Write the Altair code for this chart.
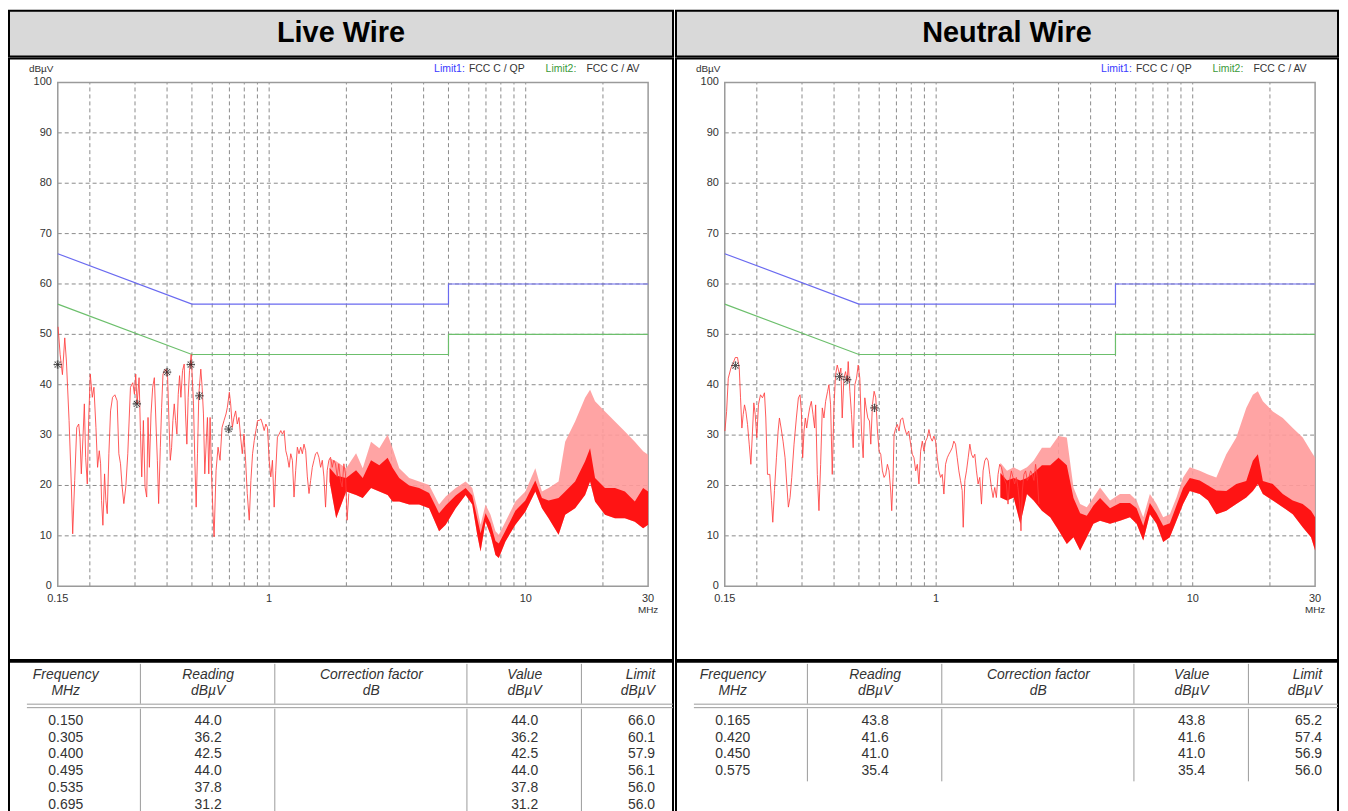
import math
import altair as alt
import pandas as pd

FONT = "Liberation Sans"
TXT = "#333333"

# ---------------- Live wire : measured trace ----------------
LIVE_LINE_F = [0.1504, 0.1532, 0.1564, 0.1597, 0.1621, 0.1660, 0.1695, 0.1715, 0.1746, 0.1778,
               0.1810, 0.1831, 0.1853, 0.1881, 0.1904, 0.1926, 0.1955, 0.1979, 0.2008, 0.2045,
               0.2075, 0.2113, 0.2144, 0.2177, 0.2203, 0.2222, 0.2249, 0.2283, 0.2310, 0.2338,
               0.2373, 0.2409, 0.2452, 0.2504, 0.2556, 0.2595, 0.2634, 0.2673, 0.2714, 0.2762,
               0.2812, 0.2880, 0.2941, 0.2985, 0.3020, 0.3057, 0.3112, 0.3149, 0.3187, 0.3234,
               0.3283, 0.3332, 0.3372, 0.3413, 0.3464, 0.3516, 0.3569, 0.3622, 0.3666, 0.3709,
               0.3765, 0.3810, 0.3856, 0.3914, 0.3972, 0.4020, 0.4068, 0.4117, 0.4166, 0.4216,
               0.4267, 0.4318, 0.4370, 0.4422, 0.4475, 0.4529, 0.4596, 0.4665, 0.4721, 0.4778,
               0.4835, 0.4893, 0.4967,
               0.5071, 0.5132, 0.5194, 0.5256, 0.5319, 0.5415, 0.5480, 0.5545, 0.5612, 0.5696,
               0.5747, 0.5816, 0.5886, 0.5956, 0.6028, 0.6100, 0.6210, 0.6322, 0.6435, 0.6552,
               0.6670, 0.6790, 0.6872, 0.6995, 0.7079, 0.7185, 0.7293, 0.7402, 0.7514, 0.7626,
               0.7741, 0.7857, 0.7975, 0.8094, 0.8216, 0.8364, 0.8489, 0.8617, 0.8746, 0.8877,
               0.9011, 0.9146, 0.9283, 0.9423, 0.9564, 0.9708, 0.9852, 1.000, 1.015, 1.030,
               1.046, 1.061, 1.077, 1.094, 1.110, 1.127, 1.144, 1.161, 1.178, 1.196,
               1.214, 1.232, 1.250, 1.269, 1.288, 1.307, 1.327, 1.347, 1.367, 1.388,
               1.409, 1.430, 1.451, 1.473, 1.495, 1.517, 1.540, 1.563, 1.587, 1.611,
               1.635, 1.659, 1.684, 1.709, 1.735, 1.761, 1.787, 1.814, 1.842, 1.869,
               1.897, 1.926, 1.955, 1.984, 2.013, 2.044]
LIVE_LINE_V = [51.5, 46.0, 42.0, 49.3, 44.7, 32.9, 19.7, 10.4, 21.0, 31.5,
               32.2, 29.6, 22.3, 29.6, 36.2, 25.6, 20.3, 32.9, 42.1, 37.5,
               39.5, 31.5, 23.6, 26.9, 24.3, 17.0, 12.1, 22.3, 17.0, 14.4,
               26.3, 34.8, 37.5, 38.0, 36.8, 26.3, 24.3, 19.7, 16.4, 19.7,
               26.3, 39.5, 40.4, 38.1, 42.1, 36.2, 41.4, 30.9, 21.7, 32.9,
               19.7, 17.7, 33.5, 23.6, 34.2, 39.5, 41.4, 32.2, 25.0, 16.4,
               27.5, 35.5, 42.1, 42.8, 43.1, 41.4, 32.9, 25.0, 27.5, 32.9,
               36.2, 32.9, 30.2, 38.1, 41.8, 37.5, 42.8, 44.1, 34.2, 28.2,
               37.5, 42.8, 46.0,
               36.2, 25.0, 15.7, 26.3, 38.1, 43.1, 39.5, 34.2, 22.3, 29.6,
               33.5, 22.3, 33.5, 23.0, 15.7, 9.8, 23.0, 27.6, 25.0, 31.5,
               32.9, 34.2, 35.5, 38.5, 36.2, 31.5, 33.5, 34.8, 32.2, 33.5,
               29.6, 26.3, 30.2, 25.0, 18.4, 13.1, 21.0, 26.3, 28.9, 30.9,
               32.9, 32.9, 33.2, 32.2, 30.9, 32.2, 31.5, 25.0, 21.7, 25.0,
               15.7, 23.0, 29.6, 30.2, 30.9, 30.2, 30.9, 26.9, 25.6, 23.6,
               26.3, 25.0, 17.7, 23.0, 27.6, 26.3, 27.6, 26.3, 28.2, 26.9,
               21.7, 18.4, 21.0, 23.6, 25.0, 26.3, 26.6, 25.6, 23.6, 25.0,
               21.7, 15.7, 23.0, 25.0, 25.6, 23.6, 25.0, 24.3, 21.7, 24.3,
               21.0, 19.7, 24.3, 22.3, 13.1, 18.4]
LIVE_BAND_F = [1.720, 1.825, 1.996, 2.182, 2.316, 2.495, 2.688, 2.896, 3.028, 3.214,
               3.515, 3.843, 4.202, 4.595, 4.877, 5.333, 5.832, 6.190, 6.472, 6.668,
               6.973, 7.291, 7.625, 7.854, 8.337, 9.115, 9.969, 10.90, 11.57, 12.28,
               13.43, 14.25, 15.58, 17.04, 17.82, 18.63, 20.37, 22.28, 24.36, 26.63,
               28.69, 30.0]
LIVE_BAND_HI = [25.4, 24.8, 23.4, 26.4, 23.4, 28.7, 27.4, 30.1, 27.4, 23.4,
                21.5, 20.8, 20.1, 16.2, 17.8, 19.5, 20.8, 19.5, 15.5, 12.2,
                16.2, 14.2, 10.9, 10.2, 12.8, 16.8, 18.8, 23.4, 18.8, 19.5,
                20.8, 28.7, 32.7, 37.4, 39.0, 36.7, 34.7, 32.7, 30.7, 28.7,
                26.8, 26.1]
LIVE_BAND_CORE = [23.5, 22.0, 21.5, 23.0, 21.5, 25.0, 24.0, 25.5, 23.5, 21.5,
                  20.0, 19.5, 18.5, 14.5, 16.0, 18.0, 19.5, 18.0, 13.5, 10.5,
                  14.5, 12.5, 9.0, 8.5, 11.0, 15.0, 17.0, 21.0, 17.5, 17.0,
                  17.5, 18.8, 20.8, 24.8, 27.4, 21.5, 19.5, 19.5, 18.8, 16.8,
                  19.5, 18.8]
LIVE_BAND_LO = [20.8, 13.5, 18.8, 18.1, 17.5, 19.5, 18.8, 18.1, 16.8, 16.8,
                16.2, 16.2, 15.5, 10.9, 12.2, 15.5, 18.1, 16.2, 10.2, 6.9,
                12.8, 10.2, 6.2, 5.6, 8.9, 12.2, 14.8, 18.8, 15.5, 13.5,
                10.2, 14.2, 15.5, 18.1, 20.8, 16.8, 14.2, 13.5, 13.5, 12.8,
                11.5, 12.2]
LIVE_PEAK_F = [0.150, 0.305, 0.400, 0.495, 0.535, 0.695]
LIVE_PEAK_READ = [44.0, 36.2, 42.5, 44.0, 37.8, 31.2]
LIVE_PEAK_LIMIT = [66.0, 60.1, 57.9, 56.1, 56.0, 56.0]

# ---------------- Neutral wire : measured trace ----------------
NEU_LINE_F = [0.1502, 0.1525, 0.1548, 0.1585, 0.1618, 0.1648, 0.1682, 0.1708, 0.1728, 0.1749,
              0.1770, 0.1791, 0.1813, 0.1840, 0.1868, 0.1896, 0.1924, 0.1947, 0.1971, 0.2000,
              0.2030, 0.2067, 0.2104, 0.2142, 0.2168, 0.2201, 0.2247, 0.2281, 0.2308, 0.2343,
              0.2385, 0.2421, 0.2450, 0.2487, 0.2531, 0.2577, 0.2616, 0.2655, 0.2695, 0.2736,
              0.2793, 0.2852, 0.2904, 0.2947, 0.2983, 0.3018, 0.3055, 0.3091, 0.3128, 0.3166,
              0.3214, 0.3262, 0.3311, 0.3360, 0.3391, 0.3442, 0.3493, 0.3546, 0.3599, 0.3653,
              0.3708, 0.3775, 0.3820, 0.3878, 0.3936, 0.3995, 0.4055, 0.4116, 0.4203, 0.4253,
              0.4304, 0.4369, 0.4435, 0.4501, 0.4542, 0.4610, 0.4679, 0.4749, 0.4821, 0.4893,
              0.4967, 0.5041, 0.5117, 0.5194, 0.5272, 0.5335, 0.5415, 0.5497, 0.5562,
              0.5646, 0.5731, 0.5817, 0.5905, 0.5993, 0.6083, 0.6175, 0.6267, 0.6361, 0.6457,
              0.6554, 0.6652, 0.6712, 0.6793, 0.6854, 0.6957, 0.7061, 0.7167, 0.7275, 0.7406,
              0.7540, 0.7676, 0.7815, 0.7956, 0.8075, 0.8196, 0.8320, 0.8444, 0.8571, 0.8700,
              0.8831, 0.8964, 0.9099, 0.9235, 0.9374, 0.9515, 0.9658, 0.9803, 0.9950, 1.010,
              1.025, 1.041, 1.056, 1.072, 1.088, 1.105, 1.121, 1.138, 1.155, 1.172,
              1.190, 1.208, 1.226, 1.244, 1.263, 1.275, 1.294, 1.313, 1.333, 1.353,
              1.373, 1.394, 1.415, 1.436, 1.457, 1.479, 1.502, 1.524, 1.547, 1.570,
              1.594, 1.618, 1.642, 1.667, 1.692, 1.717, 1.743, 1.769, 1.796, 1.823,
              1.850, 1.878, 1.906, 1.935, 1.964, 1.993, 2.023, 2.054, 2.084, 2.116,
              2.141, 2.167, 2.199, 2.232, 2.266, 2.300, 2.335, 2.370, 2.405, 2.441,
              2.478, 2.515]
NEU_LINE_V = [30.8, 34.7, 41.3, 43.3, 44.3, 45.4, 45.4, 43.3, 37.4, 31.4,
              34.1, 36.0, 34.7, 32.1, 28.2, 24.2, 30.8, 36.4, 34.1, 29.5,
              36.1, 38.0, 37.4, 38.4, 33.4, 22.2, 22.2, 17.0, 12.7, 19.0,
              25.5, 30.8, 33.4, 31.4, 28.8, 25.5, 20.3, 15.7, 17.6, 21.6,
              28.2, 33.4, 37.4, 38.0, 34.7, 25.5, 30.8, 33.4, 31.4, 33.4,
              35.4, 36.7, 34.1, 31.4, 36.0, 22.2, 15.0, 24.2, 35.4, 33.4,
              36.7, 38.7, 40.0, 36.0, 22.2, 35.4, 42.0, 43.9, 42.0, 43.3,
              33.4, 41.3, 42.6, 40.7, 44.6, 38.7, 34.1, 27.5, 40.0, 41.3,
              43.9, 41.3, 30.8, 25.5, 37.4, 35.4, 33.4, 32.8, 28.2,
              36.1, 38.7, 37.4, 30.8, 26.8, 26.2, 22.9, 21.6, 22.2, 24.2,
              22.9, 18.9, 15.0, 21.6, 30.1, 31.4, 32.1, 30.8, 33.1, 33.4,
              31.4, 30.1, 30.8, 28.2, 26.2, 25.5, 22.9, 24.2, 20.3, 26.8,
              28.8, 26.8, 28.8, 29.5, 31.1, 29.5, 28.8, 29.8, 28.8, 25.5,
              22.9, 21.6, 22.2, 18.3, 24.2, 25.5, 26.2, 26.8, 27.5, 28.8,
              28.2, 25.5, 22.9, 21.0, 19.0, 11.7, 21.0, 22.9, 25.5, 28.2,
              26.2, 25.5, 26.2, 22.9, 20.3, 21.6, 16.3, 22.9, 24.9, 25.5,
              24.9, 22.2, 19.6, 17.6, 19.6, 17.6, 22.2, 24.2, 23.6, 22.2,
              21.0, 20.3, 16.3, 21.0, 22.9, 21.6, 20.3, 21.6, 19.6, 16.3,
              11.0, 18.9, 22.2, 22.9, 21.0, 21.6, 22.9, 22.2, 21.0, 24.2,
              21.6, 16.3]
NEU_BAND_F = [1.780, 1.889, 2.005, 2.128, 2.259, 2.398, 2.584, 2.784, 2.999, 3.231,
              3.430, 3.641, 3.865, 4.102, 4.354, 4.761, 5.207, 5.694, 6.044, 6.415,
              6.809, 7.228, 7.672, 8.144, 8.644, 9.176, 9.740, 10.65, 11.48, 12.36,
              13.52, 14.79, 16.17, 17.16, 17.95, 18.77, 20.53, 22.45, 24.55, 26.84,
              28.92, 30.0]
NEU_BAND_HI = [24.5, 22.9, 23.6, 22.9, 23.6, 24.9, 27.5, 27.5, 29.8, 29.5,
               19.6, 16.3, 15.7, 17.6, 19.6, 17.0, 18.3, 18.3, 17.0, 13.7,
               18.3, 16.3, 13.7, 14.3, 17.6, 21.6, 23.6, 22.9, 22.2, 21.6,
               26.2, 29.5, 35.4, 38.0, 38.7, 36.7, 34.7, 33.4, 31.4, 29.5,
               26.8, 25.5]
NEU_BAND_CORE = [22.5, 21.0, 21.5, 21.0, 21.5, 22.5, 24.0, 24.0, 25.5, 24.0,
                 17.5, 14.5, 14.0, 16.0, 17.5, 15.5, 16.5, 16.5, 15.5, 12.0,
                 16.5, 14.5, 12.0, 12.5, 16.0, 19.5, 21.5, 21.0, 20.0, 19.0,
                 18.9, 20.3, 20.9, 24.9, 26.2, 20.9, 20.3, 18.3, 17.0, 16.3,
                 15.0, 13.7]
NEU_BAND_LO = [17.6, 17.0, 17.6, 12.4, 18.3, 17.0, 15.0, 13.7, 11.1, 8.4,
               9.7, 7.1, 9.7, 12.4, 13.0, 12.4, 13.0, 13.7, 12.4, 9.1,
               14.3, 12.4, 8.8, 9.7, 13.0, 16.3, 18.9, 18.3, 17.0, 14.3,
               15.0, 16.3, 17.6, 18.9, 20.3, 18.3, 17.0, 15.7, 14.3, 11.7,
               9.7, 7.1]
NEU_PEAK_F = [0.165, 0.420, 0.450, 0.575]
NEU_PEAK_READ = [43.8, 41.6, 41.0, 35.4]
NEU_PEAK_LIMIT = [65.2, 57.4, 56.9, 56.0]

# ---------------- Limits ----------------
QP_F = [0.15, 0.5, 5.0, 5.0, 30.0]
QP_V = [66.0, 56.0, 56.0, 60.0, 60.0]
AV_F = [0.15, 0.5, 5.0, 5.0, 30.0]
AV_V = [56.0, 46.0, 46.0, 50.0, 50.0]

GRID_F = [0.2, 0.3, 0.4, 0.5, 0.6, 0.7, 0.8, 0.9, 1, 2, 3, 4, 5, 6, 7, 8, 9, 10, 20]
GRID_V = [10, 20, 30, 40, 50, 60, 70, 80, 90]
X_TICKS = [0.15, 1, 10, 30]
X_TICK_LABELS = ["0.15", "1", "10", "30"]
Y_TICKS = [0, 10, 20, 30, 40, 50, 60, 70, 80, 90, 100]

# ---------------- layout constants ----------------
HEAD_H = 46
CELL_H = 604
PLOT_L = 49
PLOT_W = 593
PLOT_T = 24
PLOT_H = 506
TAB_H = 152
ROW0 = 59
ROW_STEP = 17
ONE = pd.DataFrame({"k": [0]})
ASTER = "M-1,0L1,0M0,-1L0,1M-0.7,-0.7L0.7,0.7M-0.7,0.7L0.7,-0.7"


def label(text, x, y, size, color=TXT, align="center", style="normal", weight="normal"):
    return alt.Chart(ONE).mark_text(
        text=text, font=FONT, fontSize=size, color=color, align=align,
        fontStyle=style, fontWeight=weight, baseline="middle"
    ).encode(x=alt.value(x), y=alt.value(y))


def header(width, title):
    return label(title, width / 2, HEAD_H / 2 - 1, 29, color="black", weight="bold").properties(
        width=width, height=HEAD_H,
        view=alt.ViewBackground(fill="#d9d9d9", stroke="black", strokeWidth=2))


def plot_cell(width, line_f, line_v, band_f, hi, core, lo, pk_f, pk_v):
    dec = PLOT_W / math.log10(30 / 0.15)
    xmin = 10 ** (math.log10(0.15) - PLOT_L / dec)
    xmax = 10 ** (math.log10(30) + (width - PLOT_L - PLOT_W) / dec)
    ppu = PLOT_H / 100.0
    ymax = 100 + PLOT_T / ppu
    ymin = -(CELL_H - PLOT_T - PLOT_H) / ppu
    xs = alt.Scale(type="log", domain=[xmin, xmax], nice=False)
    ys = alt.Scale(domain=[ymin, ymax], nice=False, zero=False)

    def X(f):
        return alt.X(f, type="quantitative", scale=xs, axis=None)

    def Y(f):
        return alt.Y(f, type="quantitative", scale=ys, axis=None)

    grid_style = dict(color="#8a8a8a", strokeDash=[4, 3], strokeWidth=1)
    vgrid = alt.Chart(pd.DataFrame({"f": GRID_F, "y0": 0.0, "y1": 100.0})).mark_rule(**grid_style).encode(
        x=X("f"), y=Y("y0"), y2="y1")
    hgrid = alt.Chart(pd.DataFrame({"v": GRID_V, "x0": 0.15, "x1": 30.0})).mark_rule(**grid_style).encode(
        y=Y("v"), x=X("x0"), x2="x1")
    border = alt.Chart(pd.DataFrame({"x0": [0.15], "x1": [30.0], "y0": [0.0], "y1": [100.0]})).mark_rect(
        fill="transparent", stroke="#9a9a9a", strokeWidth=1.5).encode(
        x=X("x0"), x2="x1", y=Y("y0"), y2="y1")

    qp = alt.Chart(pd.DataFrame({"f": QP_F, "v": QP_V, "o": list(range(len(QP_F)))})).mark_line(
        color="#6a6af0", strokeWidth=1.2).encode(x=X("f"), y=Y("v"), order="o:Q")
    av = alt.Chart(pd.DataFrame({"f": AV_F, "v": AV_V, "o": list(range(len(AV_F)))})).mark_line(
        color="#6cbf6c", strokeWidth=1.2).encode(x=X("f"), y=Y("v"), order="o:Q")

    band_df = pd.DataFrame({"f": band_f, "hi": hi, "core": core, "lo": lo})
    band_light = alt.Chart(band_df).mark_area(color="#ff9a9a", opacity=0.9).encode(
        x=X("f"), y=Y("lo"), y2="hi")
    band_dark = alt.Chart(band_df).mark_area(color="#ff1414").encode(
        x=X("f"), y=Y("lo"), y2="core")
    trace = alt.Chart(pd.DataFrame({"f": line_f, "v": line_v})).mark_line(
        color="#ff3c3c", strokeWidth=1, opacity=0.85).encode(x=X("f"), y=Y("v"))

    pk_df = pd.DataFrame({"f": pk_f, "v": pk_v})
    halo = alt.Chart(pk_df).mark_point(shape="circle", size=55, filled=False, stroke="#9a9a9a",
                                       strokeWidth=0.8).encode(x=X("f"), y=Y("v"))
    star = alt.Chart(pk_df).mark_point(shape=ASTER, size=70, filled=False, stroke="black",
                                       strokeWidth=1).encode(x=X("f"), y=Y("v"))

    ylab = alt.Chart(pd.DataFrame({"v": Y_TICKS, "x": 0.15})).mark_text(
        font=FONT, fontSize=11, color=TXT, align="right", baseline="middle", dx=-6).encode(
        x=X("x"), y=Y("v"), text="v:Q")
    xlab = alt.Chart(pd.DataFrame({"f": X_TICKS, "lab": X_TICK_LABELS, "y": 0.0})).mark_text(
        font=FONT, fontSize=11, color=TXT, align="center", baseline="top", dy=7).encode(
        x=X("f"), y=Y("y"), text="lab:N")
    mhz = alt.Chart(pd.DataFrame({"f": [30.0], "y": [0.0]})).mark_text(
        text="MHz", font=FONT, fontSize=10, color=TXT, align="center", baseline="top", dy=19).encode(
        x=X("f"), y=Y("y"))

    unit = label("dBµV", 20, 10, 10, align="left")
    l1 = label("Limit1:", 427, 10, 10.5, color="#3a3aff", align="left")
    l1b = label("FCC C / QP", 462, 10, 10.5, align="left")
    l2 = label("Limit2:", 539, 10, 10.5, color="#3a9a3a", align="left")
    l2b = label("FCC C / AV", 580, 10, 10.5, align="left")

    return alt.layer(vgrid, hgrid, border, qp, av, band_light, band_dark, trace, halo, star,
                     ylab, xlab, mhz, unit, l1, l1b, l2, l2b).properties(
        width=width, height=CELL_H,
        view=alt.ViewBackground(fill="white", stroke="black", strokeWidth=2))


COL_SEP = [132, 267, 460, 575]
COL_FREQ = 57
COL_READ = 200
COL_CORR = 364
COL_VAL = 518
COL_LIM = 649


def table_cell(width, f, reading, limit, sep_bottom):
    n = len(f)
    df = pd.DataFrame({"i": list(range(n)), "f": f, "r": reading, "lim": limit})
    ysc = alt.Scale(domain=[0, 1], range=[ROW0, ROW0 + ROW_STEP], nice=False, zero=False)
    Yr = alt.Y("i:Q", scale=ysc, axis=None)
    txt = dict(font=FONT, fontSize=14, color=TXT, baseline="middle")
    base = alt.Chart(df)
    layers = [
        base.mark_text(align="center", **txt).encode(x=alt.value(COL_FREQ), y=Yr, text=alt.Text("f:Q", format=".3f")),
        base.mark_text(align="center", **txt).encode(x=alt.value(COL_READ), y=Yr, text=alt.Text("r:Q", format=".1f")),
        base.mark_text(align="center", **txt).encode(x=alt.value(COL_VAL), y=Yr, text=alt.Text("r:Q", format=".1f")),
        base.mark_text(align="right", **txt).encode(x=alt.value(COL_LIM), y=Yr, text=alt.Text("lim:Q", format=".1f")),
    ]
    heads = [("Frequency", "MHz", COL_FREQ, "center"), ("Reading", "dBµV", COL_READ, "center"),
             ("Correction factor", "dB", COL_CORR, "center"), ("Value", "dBµV", COL_VAL, "center"),
             ("Limit", "dBµV", COL_LIM, "right")]
    for a, b, x, al in heads:
        layers.append(label(a, x, 13, 14, align=al, style="italic"))
        layers.append(label(b, x, 29, 14, align=al, style="italic"))
    for x in COL_SEP:
        layers.append(alt.Chart(ONE).mark_rule(color="#9a9a9a", strokeWidth=1).encode(
            x=alt.value(x), y=alt.value(2), y2=alt.value(42)))
        layers.append(alt.Chart(ONE).mark_rule(color="#9a9a9a", strokeWidth=1).encode(
            x=alt.value(x), y=alt.value(47), y2=alt.value(sep_bottom)))
    for yy in (42.5, 46):
        layers.append(alt.Chart(ONE).mark_rule(color="#9a9a9a", strokeWidth=1).encode(
            x=alt.value(18), x2=alt.value(width), y=alt.value(yy)))
    return alt.layer(*layers).properties(
        width=width, height=TAB_H,
        view=alt.ViewBackground(fill="white", stroke="black", strokeWidth=2))


W_L = 667
W_R = 665

left = alt.vconcat(
    header(W_L, "Live Wire"),
    plot_cell(W_L, LIVE_LINE_F, LIVE_LINE_V, LIVE_BAND_F, LIVE_BAND_HI, LIVE_BAND_CORE, LIVE_BAND_LO,
              LIVE_PEAK_F, LIVE_PEAK_READ),
    table_cell(W_L, LIVE_PEAK_F, LIVE_PEAK_READ, LIVE_PEAK_LIMIT, TAB_H),
    spacing=0)
right = alt.vconcat(
    header(W_R, "Neutral Wire"),
    plot_cell(W_R, NEU_LINE_F, NEU_LINE_V, NEU_BAND_F, NEU_BAND_HI, NEU_BAND_CORE, NEU_BAND_LO,
              NEU_PEAK_F, NEU_PEAK_READ),
    table_cell(W_R, NEU_PEAK_F, NEU_PEAK_READ, NEU_PEAK_LIMIT, ROW0 + ROW_STEP * 3 + 10),
    spacing=0)

chart = alt.hconcat(left, right, spacing=0).properties(padding=0).configure_concat(spacing=0)

chart.save("out.html", embed_options={"renderer": "svg", "actions": False})
